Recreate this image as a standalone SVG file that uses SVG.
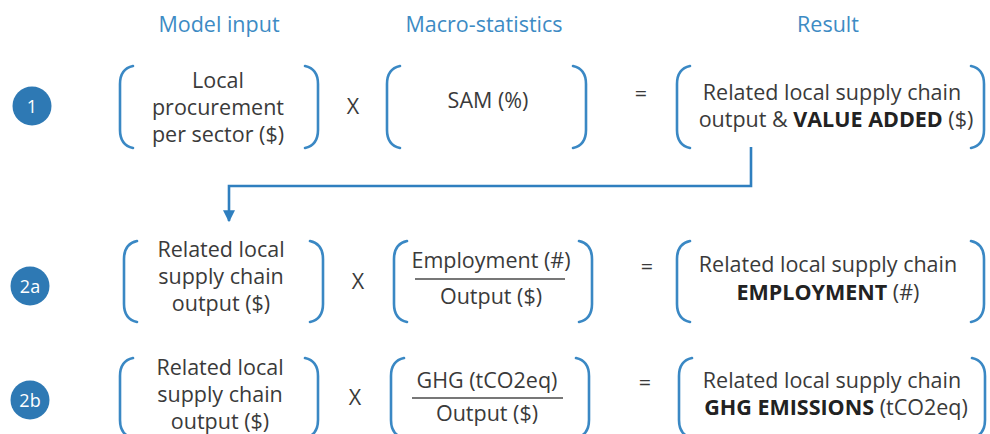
<svg xmlns="http://www.w3.org/2000/svg" width="990" height="434" viewBox="0 0 990 434">
<defs>
<style>
.t{font-family:"Open Sans","Liberation Sans",sans-serif;font-size:21.5px;fill:#3a3a3a;text-anchor:middle}
.b{font-weight:bold;fill:#222}
.h{font-family:"Open Sans","Liberation Sans",sans-serif;font-size:21.5px;fill:#3d8bc4;text-anchor:middle}
.br{fill:none;stroke:#3a88c4;stroke-width:2.6;stroke-linecap:round}
.c{fill:#2e79b4}
.ct{font-family:"Open Sans","Liberation Sans",sans-serif;font-size:18px;fill:#fff;text-anchor:middle}
.fl{stroke:#777;stroke-width:2}
.cn{fill:none;stroke:#2f7fbf;stroke-width:2.6}
</style>
<marker id="ah" viewBox="0 0 10 10" refX="9" refY="5" markerWidth="12" markerHeight="12" markerUnits="userSpaceOnUse" orient="auto">
<path d="M0,0 L10,5 L0,10 Z" fill="#2f7fbf"/>
</marker>
</defs>
<rect width="990" height="434" fill="#fff"/>
<g id="headers">
<text class="h" x="219" y="32">Model input</text>
<text class="h" x="484" y="32">Macro-statistics</text>
<text class="h" x="828" y="32">Result</text>
</g>
<g id="step1">
<circle class="c" cx="32" cy="106" r="19.5"/>
<text class="ct" x="32" y="112.5">1</text>
</g>
<g id="step2a">
<circle class="c" cx="30" cy="286" r="19.5"/>
<text class="ct" x="30" y="292.5">2a</text>
</g>
<g id="step2b">
<circle class="c" cx="30" cy="400" r="19.5"/>
<text class="ct" x="30" y="406.5">2b</text>
</g>
<g id="r1-input">
<path class="br" d="M133,66 C124,68 120,74 120,84 L120,130 C120,140 124,146 133,148"/>
<path class="br" d="M305,66 C314,68 318,74 318,84 L318,130 C318,140 314,146 305,148"/>
<text class="t" x="218" y="88">Local</text>
<text class="t" x="218" y="115">procurement</text>
<text class="t" x="218" y="142">per sector ($)</text>
</g>
<text class="t" x="353" y="114">X</text>
<g id="r1-macro">
<path class="br" d="M400,66 C391,68 387,74 387,84 L387,130 C387,140 391,146 400,148"/>
<path class="br" d="M573,66 C582,68 586,74 586,84 L586,130 C586,140 582,146 573,148"/>
<text class="t" x="488" y="108">SAM (%)</text>
</g>
<text class="t" x="641" y="101">=</text>
<g id="r1-result">
<path class="br" d="M690,66 C681,68 677,74 677,84 L677,130 C677,140 681,146 690,148"/>
<path class="br" d="M971,66 C980,68 984,74 984,84 L984,130 C984,140 980,146 971,148"/>
<text class="t" x="832" y="100">Related local supply chain</text>
<text class="t" x="836" y="127">output &amp; <tspan class="b">VALUE ADDED</tspan> ($)</text>
</g>
<g id="connectors">
<path class="cn" d="M751,147 L751,186 L229,186 L229,221" marker-end="url(#ah)"/>
</g>
<g id="r2a-input">
<path class="br" d="M137,241 C128,243 124,249 124,259 L124,304 C124,314 128,320 137,322"/>
<path class="br" d="M310,241 C319,243 323,249 323,259 L323,304 C323,314 319,320 310,322"/>
<text class="t" x="221" y="257">Related local</text>
<text class="t" x="221" y="284">supply chain</text>
<text class="t" x="221" y="311">output ($)</text>
</g>
<text class="t" x="358" y="289">X</text>
<g id="r2a-macro">
<path class="br" d="M407,241 C398,243 394,249 394,259 L394,304 C394,314 398,320 407,322"/>
<path class="br" d="M579,241 C588,243 592,249 592,259 L592,304 C592,314 588,320 579,322"/>
<text class="t" x="491" y="268">Employment (#)</text>
<line class="fl" x1="415" y1="279" x2="565" y2="279"/>
<text class="t" x="491" y="304">Output ($)</text>
</g>
<text class="t" x="647" y="274">=</text>
<g id="r2a-result">
<path class="br" d="M690,241 C681,243 677,249 677,259 L677,304 C677,314 681,320 690,322"/>
<path class="br" d="M971,241 C980,243 984,249 984,259 L984,304 C984,314 980,320 971,322"/>
<text class="t" x="828" y="272">Related local supply chain</text>
<text class="t" x="828" y="300"><tspan class="b">EMPLOYMENT</tspan> (#)</text>
</g>
<g id="r2b-input">
<path class="br" d="M133,358 C124,360 120,366 120,376 L120,420 C120,430 124,436 133,438"/>
<path class="br" d="M305,358 C314,360 318,366 318,376 L318,420 C318,430 314,436 305,438"/>
<text class="t" x="220" y="375">Related local</text>
<text class="t" x="220" y="402">supply chain</text>
<text class="t" x="220" y="429">output ($)</text>
</g>
<text class="t" x="355" y="405">X</text>
<g id="r2b-macro">
<path class="br" d="M404,358 C395,360 391,366 391,376 L391,420 C391,430 395,436 404,438"/>
<path class="br" d="M576,358 C585,360 589,366 589,376 L589,420 C589,430 585,436 576,438"/>
<text class="t" x="487" y="388">GHG (tCO2eq)</text>
<line class="fl" x1="412" y1="398" x2="563" y2="398"/>
<text class="t" x="487" y="421">Output ($)</text>
</g>
<text class="t" x="645" y="390">=</text>
<g id="r2b-result">
<path class="br" d="M692,358 C683,360 679,366 679,376 L679,420 C679,430 683,436 692,438"/>
<path class="br" d="M972,358 C981,360 985,366 985,376 L985,420 C985,430 981,436 972,438"/>
<text class="t" x="832" y="388">Related local supply chain</text>
<text class="t" x="836" y="415"><tspan class="b">GHG EMISSIONS</tspan> (tCO2eq)</text>
</g>
</svg>
